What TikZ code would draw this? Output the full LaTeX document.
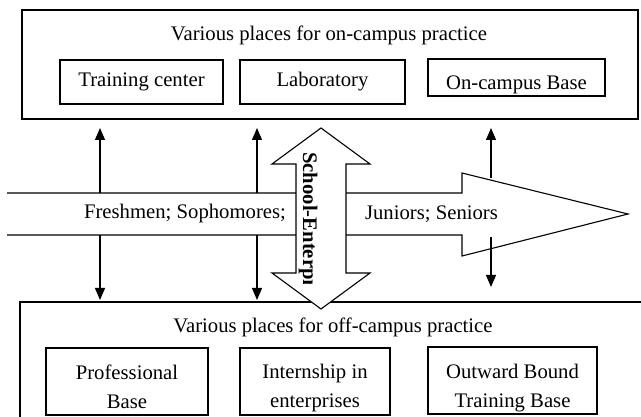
\documentclass[tikz,border=0pt]{standalone}
\usepackage{fontspec}
\setmainfont{Liberation Serif}
\usetikzlibrary{arrows.meta,positioning}

\begin{document}
\begin{tikzpicture}[x=1pt, y=-1pt,
		txt/.style={font=\fontsize{20.7}{29}\selectfont},
		place/.style={draw, line width=1.1pt, txt, inner sep=0pt, align=center},
		bigarrow/.style={draw, line width=1.1pt, fill=white, line join=miter}]
	\useasboundingbox (0,0) rectangle (641,417);
	% the two frames
	\draw[line width=1.2pt] (22,10) rectangle (638,119);
	\draw[line width=1.2pt] (20,420) -- (20,302) -- (644,302);
	\node[txt] (ontitle) at (329,35) {Various places for on-campus practice};
	\node[txt] (offtitle) at (333,327) {Various places for off-campus practice};
	\begin{scope}[every node/.style={place}]
		\node[minimum width=163pt, minimum height=44pt] (train) at (141.5,82) {Training center};
		\node[minimum width=165pt, minimum height=44pt] (lab) at (322.5,82) {Laboratory};
		\node[minimum width=177pt, minimum height=37pt, text height=25pt, text depth=0pt] (oncampus) at (516.5,77.5) {On-campus Base};
		\node[minimum width=162pt, minimum height=67pt, text height=55pt, text depth=0pt] (prof) at (127,381.5) {Professional\\Base};
		\node[minimum width=150pt, minimum height=67pt, text height=51pt, text depth=0pt] (intern) at (315,381.5) {Internship in\\enterprises};
		\node[minimum width=169pt, minimum height=67pt, text height=53pt, text depth=0pt] (outward) at (512.5,380.5) {Outward Bound\\Training Base};
	\end{scope}
	% grade arrow
	\draw[bigarrow] (7,193) -- (462,193) -- (462,173) -- (628,214) -- (462,256) -- (462,235) -- (7,235);
	\node[txt] (fresh) at (185,214) {Freshmen; Sophomores;};
	\node[txt] (junior) at (431.5,214) {Juniors; Seniors};
	% school-enterprise arrow
	\draw[bigarrow] (296,164) -- (272,164) -- (321,128) -- (370,164) -- (346,164) -- (346,273)
		-- (370,273) -- (321,309) -- (272,273) -- (296,273) -- cycle;
	\begin{scope}
		\clip (296,140) rectangle (346,284);
		\node[txt, font=\fontsize{20.7}{29}\selectfont\bfseries, rotate=-90, anchor=west, inner sep=0pt] (schoolent) at (308,152) {School-Enterprise};
	\end{scope}
	\coordinate (u1) at (100,193);
	\coordinate (u2) at (257,193);
	\coordinate (u3) at (491,178);
	\coordinate (d1) at (100,235);
	\coordinate (d2) at (257,235);
	\coordinate (d3) at (491,237);
	\coordinate (t1) at (100,128);
	\coordinate (t2) at (257,128);
	\coordinate (t3) at (491,128);
	\coordinate (b1) at (100,300);
	\coordinate (b2) at (257,300);
	\coordinate (b3) at (491,287);
	\begin{scope}[every path/.style={line width=1.1pt, -{Triangle[length=12pt,width=10pt]}}]
		\path (u1) edge (t1);
		\path (u2) edge (t2);
		\path (u3) edge (t3);
		\path (d1) edge (b1);
		\path (d2) edge (b2);
		\path (d3) edge (b3);
	\end{scope}
\end{tikzpicture}
\end{document}
